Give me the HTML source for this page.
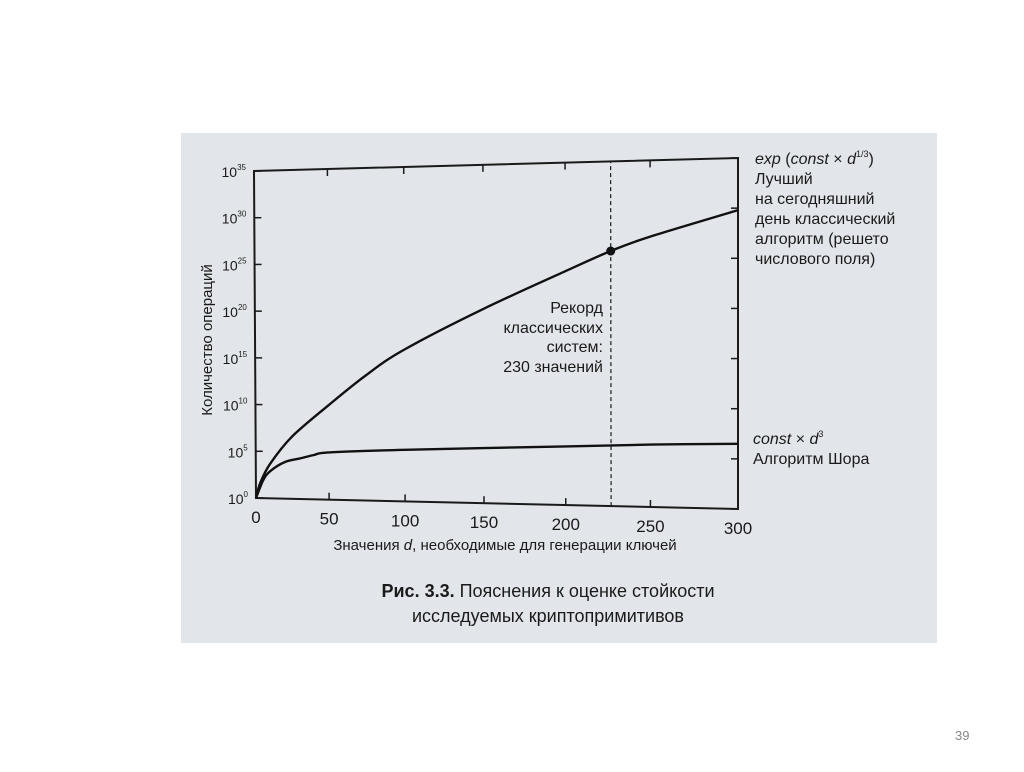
<!DOCTYPE html>
<html><head><meta charset="utf-8"><style>
body{margin:0;background:#fff;}
svg text{font-family:"Liberation Sans",sans-serif;fill:#1a1a1a;}
</style></head><body>
<svg width="1024" height="767" viewBox="0 0 1024 767">
<rect x="0" y="0" width="1024" height="767" fill="#fff"/>
<rect x="181" y="133" width="756" height="510" fill="#e2e6ea"/>
<g id="chart"></g>
<text x="212" y="340" font-size="15" text-anchor="middle" transform="rotate(-90 212 340)">Количество операций</text>
<text x="505" y="550" font-size="15" text-anchor="middle">Значения <tspan font-style="italic">d</tspan>, необходимые для генерации ключей</text>
<text x="548" y="597" font-size="18" text-anchor="middle"><tspan font-weight="bold">Рис. 3.3.</tspan> Пояснения к оценке стойкости</text>
<text x="548" y="622" font-size="18" text-anchor="middle">исследуемых криптопримитивов</text>
<g font-size="16">
<text x="755" y="164"><tspan font-style="italic">exp</tspan> (<tspan font-style="italic">const</tspan> × <tspan font-style="italic">d</tspan><tspan font-size="9" dy="-7">1/3</tspan><tspan dy="7">)</tspan></text>
<text x="755" y="184">Лучший</text>
<text x="755" y="204">на сегодняшний</text>
<text x="755" y="224">день классический</text>
<text x="755" y="244">алгоритм (решето</text>
<text x="755" y="264">числового поля)</text>
</g>
<g font-size="16">
<text x="753" y="444"><tspan font-style="italic">const</tspan> × <tspan font-style="italic">d</tspan><tspan font-size="9" dy="-7">3</tspan></text>
<text x="753" y="464">Алгоритм Шора</text>
</g>
<g font-size="16" text-anchor="end">
<text x="603" y="313">Рекорд</text>
<text x="603" y="333">классических</text>
<text x="603" y="352">систем:</text>
<text x="603" y="372">230 значений</text>
</g>
<text x="955" y="740" font-size="13" style="fill:#888">39</text>
</svg>
<script>
const xTicks=[0,50,100,150,200,250,300];
const yTicks=[0,5,10,15,20,25,30,35];
const nfsD=[0,3,10,25,50,75,100,150,200,227,250,300];
const nfsExp=[0,1.6,3.7,6.6,10.0,13.2,15.9,20.1,23.9,25.9,27.3,29.8];
const shorD=[0,5,10,20,30,40,50,100,150,200,250,300];
const shorExp=[0,1.9,2.9,3.9,4.3,4.7,5.0,5.4,5.7,6.0,6.3,6.5];
const recordD=227;
const recordExp=25.9;
const NS='http://www.w3.org/2000/svg';
const g=document.getElementById('chart');
const TL=[254,171],TR=[738,158],BL=[256,498],BR=[738,509];
function P(d,e){let u=d/300;u=u+0.108*(u*u-u);const v=e/35;
 const bx=BL[0]+(BR[0]-BL[0])*u,by=BL[1]+(BR[1]-BL[1])*u;
 const tx=TL[0]+(TR[0]-TL[0])*u,ty=TL[1]+(TR[1]-TL[1])*u;
 return [bx+(tx-bx)*v,by+(ty-by)*v];}
function mk(t,a){const e=document.createElementNS(NS,t);for(const k in a)e.setAttribute(k,a[k]);g.appendChild(e);return e;}
const frame=mk('polygon',{points:[TL,TR,BR,BL].map(p=>p.join(',')).join(' '),fill:'none',stroke:'#1a1a1a','stroke-width':2});


xTicks.forEach(t=>{const a=P(t,0),b=P(t,35);
 const l1=mk('line',{x1:a[0],y1:a[1],x2:a[0],y2:a[1]-7,stroke:'#1a1a1a','stroke-width':1.5});
 
 
 const l2=mk('line',{x1:b[0],y1:b[1],x2:b[0],y2:b[1]+7,stroke:'#1a1a1a','stroke-width':1.5});
 
 
 const tx=mk('text',{x:a[0],y:a[1]+25,'font-size':17,'text-anchor':'middle'});tx.textContent=t;
 
 });
yTicks.forEach(t=>{const a=P(0,t),b=P(300,t);
 const l1=mk('line',{x1:a[0],y1:a[1],x2:a[0]+7,y2:a[1],stroke:'#1a1a1a','stroke-width':1.5});
 
 
 const l2=mk('line',{x1:b[0],y1:b[1],x2:b[0]-7,y2:b[1],stroke:'#1a1a1a','stroke-width':1.5});
 
 
 const tx=mk('text',{x:a[0]-8,y:a[1]+6,'font-size':14,'text-anchor':'end'});
 tx.innerHTML='10<tspan font-size="8" dy="-7">'+t+'</tspan>';
 
 });
function curve(ds,es,name){const pts=ds.map((d,i)=>P(d,es[i]));
 let s='M'+pts[0][0].toFixed(1)+','+pts[0][1].toFixed(1);
 for(let i=0;i<pts.length-1;i++){const p0=pts[Math.max(0,i-1)],p1=pts[i],p2=pts[i+1],p3=pts[Math.min(pts.length-1,i+2)];
  const c1=[p1[0]+(p2[0]-p0[0])/6,p1[1]+(p2[1]-p0[1])/6],c2=[p2[0]-(p3[0]-p1[0])/6,p2[1]-(p3[1]-p1[1])/6];
  s+='C'+c1.map(v=>v.toFixed(1)).join(',')+' '+c2.map(v=>v.toFixed(1)).join(',')+' '+p2.map(v=>v.toFixed(1)).join(',');}
 const p=mk('path',{d:s,fill:'none',stroke:'#111','stroke-width':2.4,'stroke-linejoin':'round'});
 
 }
curve(nfsD,nfsExp,'nfs-curve');
curve(shorD,shorExp,'shor-curve');
const ra=P(recordD,0),rb=P(recordD,35);
const dl=mk('line',{x1:ra[0],y1:ra[1],x2:rb[0],y2:rb[1],stroke:'#1a1a1a','stroke-width':1.2,'stroke-dasharray':'4,3'});


const rp=P(recordD,recordExp);
const dot=mk('circle',{cx:rp[0],cy:rp[1],r:4.5,fill:'#111'});


</script>
</body></html>
